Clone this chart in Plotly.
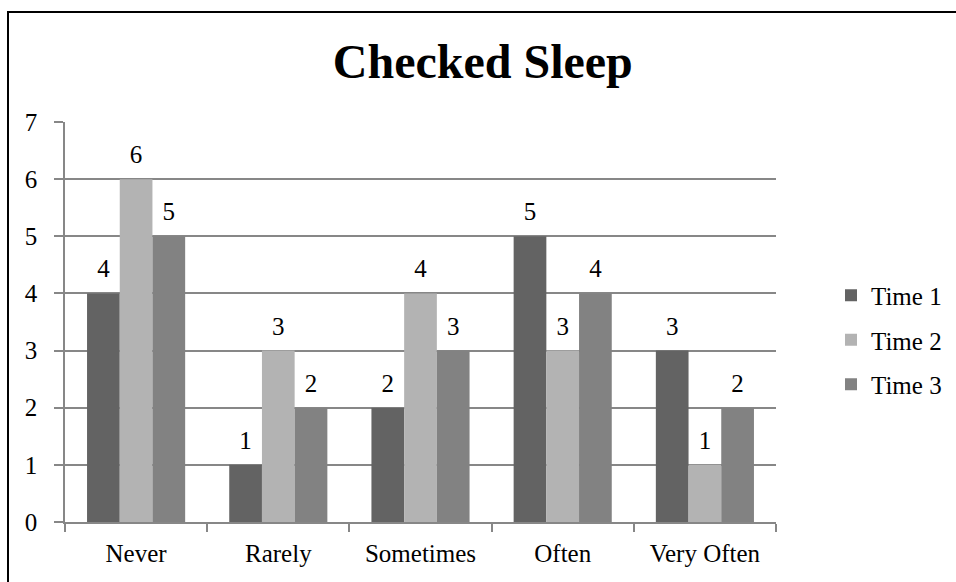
import plotly.graph_objects as go

# Survey responses: how often respondents checked their sleep, at three time points
categories = ["Never", "Rarely", "Sometimes", "Often", "Very Often"]
series_names = ["Time 1", "Time 2", "Time 3"]
time1 = [4, 1, 2, 5, 3]
time2 = [6, 3, 4, 3, 1]
time3 = [5, 2, 3, 4, 2]
y_ticks = [0, 1, 2, 3, 4, 5, 6, 7]

colors = ["#636363", "#b3b3b3", "#828282"]
grid_color = "#878787"
font_family = "Liberation Serif"
gap = 0.31

fig = go.Figure()
for name, vals, col in zip(series_names, [time1, time2, time3], colors):
    fig.add_trace(go.Bar(
        x=categories, y=vals, name=name, marker=dict(color=col, line=dict(width=0)),
        offsetgroup=name, legendgroup=name,
    ))
# value labels, aligned with the grouped bars
for name, vals in zip(series_names, [time1, time2, time3]):
    fig.add_trace(go.Scatter(
        x=categories, y=vals, mode="markers+text", text=[str(v) for v in vals],
        textposition="top center", offsetgroup=name, showlegend=False,
        marker=dict(size=14, opacity=0), hoverinfo="skip", cliponaxis=False,
        textfont=dict(family=font_family, size=25, color="black"),
    ))

fig.update_layout(
    width=956, height=582,
    margin=dict(l=65, r=180, t=122, b=60, autoexpand=False),
    paper_bgcolor="white", plot_bgcolor="white",
    barmode="group", bargap=gap, bargroupgap=0,
    scattermode="group", scattergap=gap,
    font=dict(family=font_family, size=25, color="black"),
    title=dict(text="<b>Checked Sleep</b>", x=0.505, xanchor="center",
               y=1 - 61 / 582, yanchor="middle", yref="container",
               font=dict(family=font_family, size=48, color="black")),
    legend=dict(x=(831 - 65) / 711, xanchor="left", y=0.455, yanchor="middle",
                traceorder="grouped", tracegroupgap=9, itemwidth=30,
                font=dict(family=font_family, size=25), bgcolor="rgba(0,0,0,0)"),
    showlegend=True,
    shapes=[dict(type="rect", xref="paper", yref="paper",
                 x0=(8 - 65) / 711, x1=2, y0=-1, y1=(522 - 12) / 400,
                 line=dict(color="black", width=2), fillcolor="rgba(0,0,0,0)", layer="above")],
)
fig.update_xaxes(
    type="category", tickson="boundaries", ticks="outside", ticklen=8, tickwidth=1.6,
    tickcolor=grid_color, showline=True, linecolor=grid_color, linewidth=1.6,
    showgrid=False, ticklabelstandoff=8,
)
fig.update_yaxes(
    range=[0, 7], tickvals=y_ticks, ticks="outside", ticklen=9, tickwidth=1.6,
    tickcolor=grid_color, showline=True, linecolor=grid_color, linewidth=1.6,
    showgrid=True, gridcolor=grid_color, gridwidth=1.6, zeroline=False,
    ticklabelstandoff=12,
)

fig.write_html("out.html")
